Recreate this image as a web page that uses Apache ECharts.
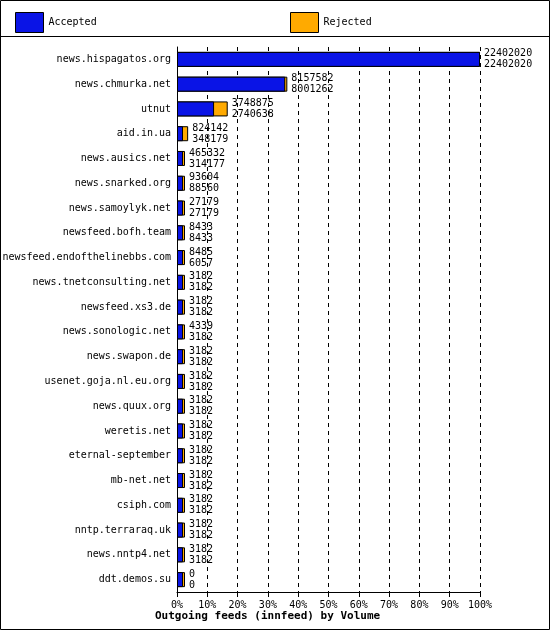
<!DOCTYPE html><html><head><meta charset="utf-8">
<script src="https://cdn.jsdelivr.net/npm/echarts@6/dist/echarts.min.js"></script>
<style>html,body{margin:0;padding:0;background:#fff}#c{width:550px;height:630px}</style></head><body><div id="c"></div>
<script>
const categories=["news.hispagatos.org","news.chmurka.net","utnut","aid.in.ua","news.ausics.net","news.snarked.org","news.samoylyk.net","newsfeed.bofh.team","newsfeed.endofthelinebbs.com","news.tnetconsulting.net","newsfeed.xs3.de","news.sonologic.net","news.swapon.de","usenet.goja.nl.eu.org","news.quux.org","weretis.net","eternal-september","mb-net.net","csiph.com","nntp.terraraq.uk","news.nntp4.net","ddt.demos.su"];
const rejectedTop=[22402020,8157582,3748875,824142,465332,93604,27179,8433,8485,3182,3182,4339,3182,3182,3182,3182,3182,3182,3182,3182,3182,0];
const acceptedBottom=[22402020,8001262,2740638,348179,314177,88560,27179,8433,6057,3182,3182,3182,3182,3182,3182,3182,3182,3182,3182,3182,3182,0];
const xTicks=[0,10,20,30,40,50,60,70,80,90,100];
const maxV=22402020;
const font="DejaVu Sans Mono";
const ch=echarts.init(document.getElementById('c'));
ch.setOption({
 animation:false,
 textStyle:{fontFamily:font},
 graphic:[
  {type:'rect',shape:{x:0.5,y:0.5,width:549,height:629},style:{fill:'none',stroke:'#000',lineWidth:1}},
  {type:'line',shape:{x1:0,y1:36.5,x2:550,y2:36.5},style:{stroke:'#000',lineWidth:1}},
  {type:'text',left:155,top:611,style:{text:'Outgoing feeds (innfeed) by Volume',font:'bold 11px "DejaVu Sans Mono"',fill:'#000'}}
 ],
 legend:[
  {data:['Accepted'],left:10,top:7,icon:'rect',itemWidth:28,itemHeight:20,itemGap:6,textStyle:{fontFamily:font,fontSize:10,color:'#000'},itemStyle:{borderColor:'#000',borderWidth:1}},
  {data:['Rejected'],left:285,top:7,icon:'rect',itemWidth:28,itemHeight:20,textStyle:{fontFamily:font,fontSize:10,color:'#000'},itemStyle:{borderColor:'#000',borderWidth:1}}
 ],
 grid:{left:177,right:70,top:47,bottom:38,containLabel:false,outerBoundsMode:'none'},
 xAxis:{type:'value',min:0,max:100,interval:10,
  axisLabel:{formatter:v=>v+'%',fontFamily:font,fontSize:10,color:'#000'},
  axisLine:{show:true,lineStyle:{color:'#000'}},axisTick:{show:true,lineStyle:{color:'#000'}},
  splitLine:{show:true,lineStyle:{color:'#000',type:[4,4]}}},
 yAxis:{type:'category',inverse:true,data:categories,
  axisLabel:{fontFamily:font,fontSize:10,color:'#000',margin:6},
  axisLine:{show:true,lineStyle:{color:'#000'}},axisTick:{show:false}},
 series:[
  {name:'Rejected',type:'bar',barWidth:15,barGap:'-100%',barMinHeight:8,
   itemStyle:{color:'#ffaa00',borderColor:'#000',borderWidth:1},
   data:rejectedTop.map(v=>v/maxV*100),
   label:{show:true,position:'right',distance:4,fontFamily:font,fontSize:10,color:'#000',lineHeight:11,
    formatter:p=>rejectedTop[p.dataIndex]+'\n'+acceptedBottom[p.dataIndex]}},
  {name:'Accepted',type:'bar',barWidth:15,barGap:'-100%',barMinHeight:6,
   itemStyle:{color:'#0a14e6',borderColor:'#000',borderWidth:1},
   data:acceptedBottom.map(v=>v/maxV*100)}
 ]
});
</script></body></html>
